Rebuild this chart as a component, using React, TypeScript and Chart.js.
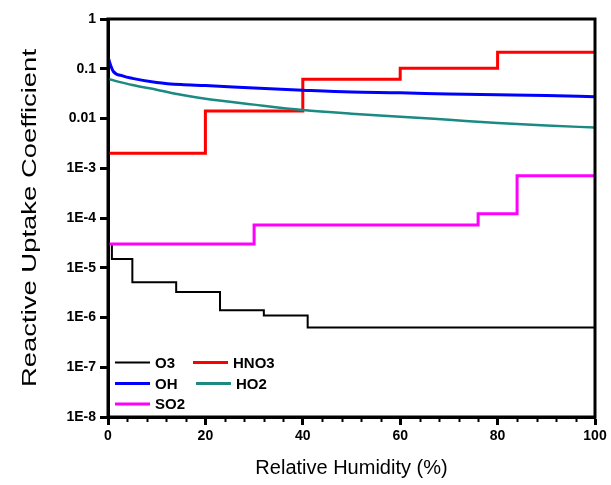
import React, { useEffect, useRef } from "react";
import { Chart, registerables } from "chart.js";

Chart.register(...registerables);

// O3 step changes: [RH, value]
const o3X = [0, 0.8, 5, 14, 23, 32, 41, 100];
const o3Y = [3e-5, 1.5e-5, 5.1e-6, 3.25e-6, 1.4e-6, 1.1e-6, 6.3e-7, 6.3e-7];

const hno3X = [0, 20, 40, 60, 80, 100];
const hno3Y = [2.0e-3, 0.0141, 0.0616, 0.102, 0.214, 0.214];

const so2X = [0, 30, 76, 84, 100];
const so2Y = [3.0e-5, 7.2e-5, 1.22e-4, 7.1e-4, 7.1e-4];

const ohX = [0, 0.5, 1.1, 3, 5, 10, 15, 20, 30, 40, 50, 60, 70, 80, 90, 100];
const ohY = [0.175, 0.12, 0.088, 0.072, 0.064, 0.053, 0.048, 0.046, 0.041, 0.037, 0.034, 0.033, 0.031, 0.030, 0.029, 0.0275];

const ho2X = [0, 5, 10, 15, 20, 30, 40, 50, 60, 70, 80, 90, 100];
const ho2Y = [0.062, 0.047, 0.038, 0.030, 0.025, 0.019, 0.0148, 0.0125, 0.0109, 0.0094, 0.0081, 0.0072, 0.0066];

const yTickValues = [1e-8, 1e-7, 1e-6, 1e-5, 1e-4, 1e-3, 0.01, 0.1, 1];
const yTickLabels = ["1E-8", "1E-7", "1E-6", "1E-5", "1E-4", "1E-3", "0.01", "0.1", "1"];
const xMinorTicks = [4, 8, 12, 16, 24, 28, 32, 36, 44, 48, 52, 56, 64, 68, 72, 76, 84, 88, 92, 96];

const yTitle = "Reactive Uptake Coefficient";

const FONT = "'Liberation Sans', Arial, Helvetica, sans-serif";

const legendItems = [
  { label: "O3", color: "#000000", width: 2, col: 0, row: 0 },
  { label: "HNO3", color: "#ff0000", width: 3, col: 1, row: 0 },
  { label: "OH", color: "#0000ff", width: 3, col: 0, row: 1 },
  { label: "HO2", color: "#1a8a82", width: 3, col: 1, row: 1 },
  { label: "SO2", color: "#ff00ff", width: 3, col: 0, row: 2 },
];

const toPts = (xs: number[], ys: number[]) => xs.map((x, i) => ({ x, y: ys[i] }));

export default function App() {
  const ref = useRef<HTMLCanvasElement | null>(null);

  useEffect(() => {
    document.body.style.margin = "0";
    const canvas = ref.current;
    if (!canvas) return;

    const framePlugin = {
      id: "frame",
      afterDraw(chart: any) {
        const { ctx, chartArea } = chart;
        const xs = chart.scales.x;
        ctx.save();
        // minor x ticks
        ctx.strokeStyle = "#000";
        ctx.lineWidth = 2;
        xMinorTicks.forEach((v) => {
          const px = Math.round(xs.getPixelForValue(v)) + 0.5;
          ctx.beginPath();
          ctx.moveTo(px, chartArea.bottom);
          ctx.lineTo(px, chartArea.bottom + 5);
          ctx.stroke();
        });
        // frame
        ctx.lineWidth = 3;
        ctx.strokeRect(chartArea.left, chartArea.top, chartArea.right - chartArea.left, chartArea.bottom - chartArea.top);
        // legend
        const baseX = chartArea.left + 7;
        const colX = [0, 78];
        const rowY = [362.5, 383.5, 404];
        ctx.font = `bold 15px ${FONT}`;
        ctx.textBaseline = "middle";
        ctx.textAlign = "left";
        legendItems.forEach((it) => {
          const x0 = baseX + colX[it.col] + (it.label === "HO2" ? 3 : 0);
          const y = rowY[it.row];
          ctx.strokeStyle = it.color;
          ctx.lineWidth = it.width;
          ctx.beginPath();
          ctx.moveTo(x0, y);
          ctx.lineTo(x0 + 35, y);
          ctx.stroke();
          ctx.fillStyle = "#000";
          ctx.fillText(it.label, x0 + 40, y + 1);
        });
        // y axis title (stretched along its length like the reference)
        ctx.font = `21px ${FONT}`;
        ctx.fillStyle = "#000";
        ctx.textAlign = "center";
        ctx.textBaseline = "middle";
        const cy = (chartArea.top + chartArea.bottom) / 2;
        ctx.translate(30, cy);
        ctx.rotate(-Math.PI / 2);
        const w = ctx.measureText(yTitle).width;
        ctx.scale(338 / w, 1);
        ctx.fillText(yTitle, 0, 0);
        ctx.restore();
      },
    };

    const common = { pointRadius: 0, fill: false, borderCapStyle: "butt" as const };

    const chart = new Chart(canvas, {
      type: "line",
      data: {
        datasets: [
          { ...common, label: "HO2", data: toPts(ho2X, ho2Y), borderColor: "#1a8a82", borderWidth: 2.5, cubicInterpolationMode: "monotone" },
          { ...common, label: "OH", data: toPts(ohX, ohY), borderColor: "#0000ff", borderWidth: 3, cubicInterpolationMode: "monotone" },
          { ...common, label: "SO2", data: toPts(so2X, so2Y), borderColor: "#ff00ff", borderWidth: 3, stepped: "before" },
          { ...common, label: "HNO3", data: toPts(hno3X, hno3Y), borderColor: "#ff0000", borderWidth: 3, stepped: "before" },
          { ...common, label: "O3", data: toPts(o3X, o3Y), borderColor: "#000000", borderWidth: 2, stepped: "before" },
        ] as any,
      },
      options: {
        animation: false,
        responsive: false,
        maintainAspectRatio: false,
        layout: { padding: { left: 0, right: 16, top: 19, bottom: 0 } },
        plugins: { legend: { display: false }, tooltip: { enabled: false } },
        scales: {
          x: {
            type: "linear",
            min: 0,
            max: 100,
            border: { display: true, color: "#000", width: 3 },
            grid: { drawOnChartArea: false, drawTicks: true, tickLength: 8, tickWidth: 3, tickColor: "#000" },
            ticks: { stepSize: 20, color: "#000", font: { family: FONT, size: 14, weight: "bold" }, padding: 3, maxRotation: 0 },
            title: { display: true, text: "Relative Humidity (%)", color: "#000", font: { family: FONT, size: 20 }, padding: { top: 0, bottom: 5 } },
            afterFit: (s: any) => { s.height = 68; },
          },
          y: {
            type: "logarithmic",
            min: 1e-8,
            max: 1,
            border: { display: true, color: "#000", width: 3 },
            grid: { drawOnChartArea: false, drawTicks: true, tickLength: 8, tickWidth: 3, tickColor: "#000" },
            afterBuildTicks: (s: any) => { s.ticks = yTickValues.map((v) => ({ value: v })); },
            ticks: {
              color: "#000",
              font: { family: FONT, size: 14, weight: "bold" },
              padding: 4,
              callback: (v: any) => {
                const i = yTickValues.findIndex((t) => Math.abs(Math.log10(t) - Math.log10(Number(v))) < 1e-6);
                return i >= 0 ? yTickLabels[i] : "";
              },
            },
            title: { display: false },
            afterFit: (s: any) => { s.width = 108; },
          },
        },
      } as any,
      plugins: [framePlugin],
    });

    return () => chart.destroy();
  }, []);

  return (
    <div style={{ width: 611, height: 485, background: "#fff" }}>
      <canvas ref={ref} width={611} height={485} style={{ display: "block" }} />
    </div>
  );
}
